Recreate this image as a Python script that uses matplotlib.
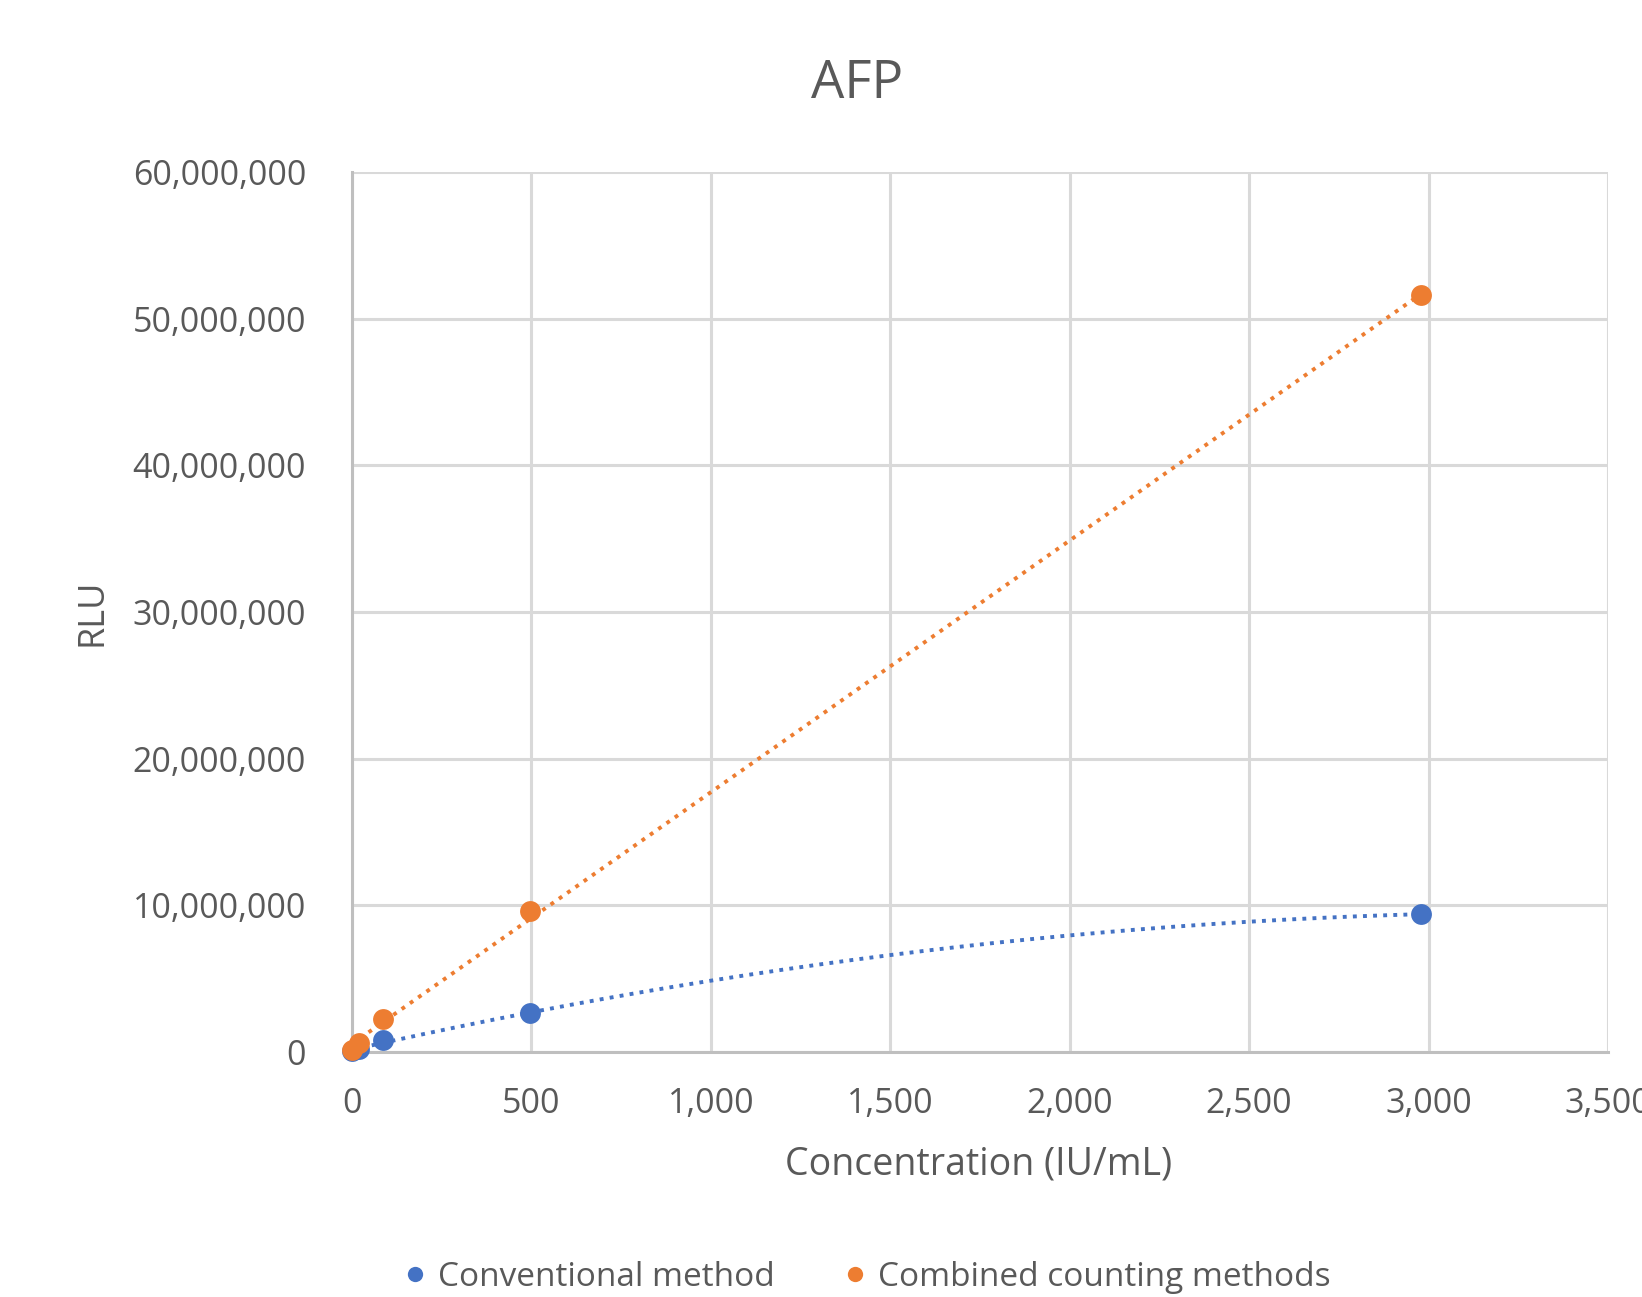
import numpy as np
import matplotlib
matplotlib.use("Agg")
import matplotlib.pyplot as plt
from matplotlib.ticker import FuncFormatter, MultipleLocator
from matplotlib.lines import Line2D

plt.rcParams['font.family'] = ['Open Sans', 'DejaVu Sans']

title = "AFP"
x_label = "Concentration (IU/mL)"
y_label = "RLU"
series_names = ["Conventional method", "Combined counting methods"]
concentration = [0, 20, 85, 495, 2980]
conventional = [50000, 200000, 820000, 2650000, 9400000]
combined = [150000, 600000, 2250000, 9600000, 51600000]

blue = "#4472C4"
orange = "#ED7D31"
text_grey = "#595959"

fig = plt.figure(figsize=(16.42, 12.97), dpi=100)
ax = fig.add_axes([352/1642, 1-1052/1297, (1608-352)/1642, (1052-172)/1297])

x = np.array(concentration, dtype=float)
xs = np.linspace(x.min(), x.max(), 300)

# trendlines (Excel-style dotted)
p_blue = np.polyfit(x, np.array(conventional, float), 2)
p_orange = np.polyfit(x, np.array(combined, float), 1)
dots = (0, (1, 1.6))
ax.plot(xs, np.polyval(p_blue, xs), color=blue, lw=2.8, linestyle=dots, zorder=3, clip_on=False)
ax.plot(xs, np.polyval(p_orange, xs), color=orange, lw=2.8, linestyle=dots, zorder=3, clip_on=False)

ax.scatter(concentration, conventional, s=15**2, color=blue, zorder=4, clip_on=False, linewidths=0)
ax.scatter(concentration, combined, s=15**2, color=orange, zorder=5, clip_on=False, linewidths=0)

ax.set_xlim(0, 3500)
ax.set_ylim(0, 60000000)
ax.xaxis.set_major_locator(MultipleLocator(500))
ax.yaxis.set_major_locator(MultipleLocator(10000000))
fmt = FuncFormatter(lambda v, p: f"{int(round(v)):,}")
ax.xaxis.set_major_formatter(fmt)
ax.yaxis.set_major_formatter(fmt)

ax.grid(True, color="#D9D9D9", lw=2.2, zorder=0)
ax.set_axisbelow(True)
for side in ["top", "right"]:
    ax.spines[side].set_visible(False)
for side in ["left", "bottom"]:
    ax.spines[side].set_color("#BFBFBF")
    ax.spines[side].set_linewidth(2.2)
    ax.spines[side].set_zorder(1)

ax.tick_params(axis='both', length=0, labelsize=24.5, labelcolor=text_grey)
ax.tick_params(axis='y', pad=33)
ax.tick_params(axis='x', pad=25)

fig.text(857/1642, 1-84/1297, title, ha='center', va='center', fontsize=38, color=text_grey)
fig.text(979/1642, 1-1164/1297, x_label, ha='center', va='center', fontsize=27, color=text_grey)
fig.text(92/1642, 1-612/1297, y_label, ha='center', va='center', fontsize=26, color=text_grey, rotation=90)

handles = [Line2D([], [], marker='o', linestyle='none', markersize=11, color=blue, markeredgewidth=0),
           Line2D([], [], marker='o', linestyle='none', markersize=11, color=orange, markeredgewidth=0)]
fig.legend(handles, series_names, loc='center', bbox_to_anchor=(866/1642, 1-1277/1297), ncol=2,
           frameon=False, fontsize=24, labelcolor=text_grey, handlelength=0.8, handletextpad=0.3,
           columnspacing=2.0)

fig.savefig("out.png", dpi=100)
